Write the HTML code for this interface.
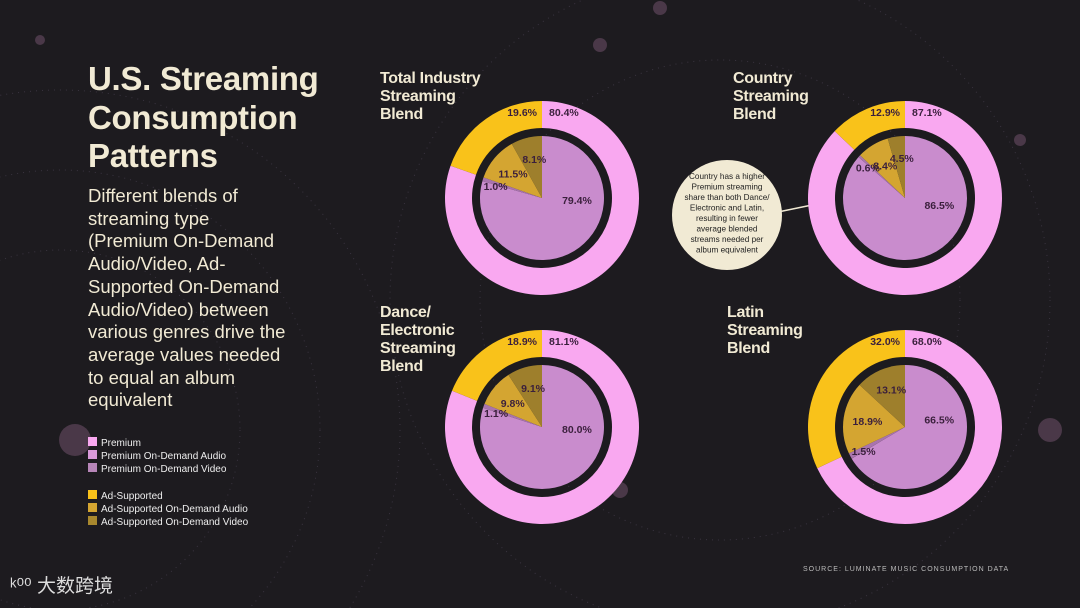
<!DOCTYPE html>
<html><head><meta charset="utf-8"><style>
body{margin:0;width:1080px;height:608px;overflow:hidden;background:#1d1b1f;font-family:"Liberation Sans",sans-serif;}
#root{position:relative;width:1080px;height:608px;overflow:hidden;}
.t{position:absolute;color:#f1ead4;}
</style></head><body>
<div id="root">
<svg id="bg" width="1080" height="608" style="position:absolute;left:0;top:0">
<g fill="none" stroke="#3a3440" stroke-width="1" stroke-dasharray="1 5">
<circle cx="60" cy="430" r="180"/><circle cx="60" cy="430" r="260"/><circle cx="60" cy="430" r="340"/>
<circle cx="720" cy="300" r="240"/><circle cx="720" cy="300" r="330"/>
</g>
<g fill="#4a3848"><circle cx="75" cy="440" r="16"/><circle cx="600" cy="45" r="7"/><circle cx="660" cy="8" r="7"/><circle cx="1020" cy="140" r="6"/><circle cx="620" cy="490" r="8"/><circle cx="40" cy="40" r="5"/><circle cx="1050" cy="430" r="12"/></g>
</svg>
<div class="t" style="left:88px;top:60px;font-size:33px;font-weight:bold;line-height:38.5px;letter-spacing:-0.3px">U.S. Streaming<br>Consumption<br>Patterns</div>
<div class="t" style="left:88px;top:185px;font-size:18.5px;line-height:22.7px;white-space:nowrap">Different blends of<br>streaming type<br>(Premium On-Demand<br>Audio/Video, Ad-<br>Supported On-Demand<br>Audio/Video) between<br>various genres drive the<br>average values needed<br>to equal an album<br>equivalent</div>
<div style="position:absolute;left:88px;top:437px;font-size:10px;color:#eee;line-height:13px">
<div><span style="display:inline-block;width:9px;height:9px;background:#f9a8f0;margin-right:4px"></span>Premium</div>
<div><span style="display:inline-block;width:9px;height:9px;background:#d99ad9;margin-right:4px"></span>Premium On-Demand Audio</div>
<div><span style="display:inline-block;width:9px;height:9px;background:#b786b8;margin-right:4px"></span>Premium On-Demand Video</div>
<div style="height:14px"></div>
<div><span style="display:inline-block;width:9px;height:9px;background:#f9c21a;margin-right:4px"></span>Ad-Supported</div>
<div><span style="display:inline-block;width:9px;height:9px;background:#d4a531;margin-right:4px"></span>Ad-Supported On-Demand Audio</div>
<div><span style="display:inline-block;width:9px;height:9px;background:#a8882e;margin-right:4px"></span>Ad-Supported On-Demand Video</div>
</div>
<svg id="charts" width="1080" height="608" style="position:absolute;left:0;top:0">
<line x1="778" y1="212" x2="812" y2="205" stroke="#f1ead4" stroke-width="1.5"/>
<circle cx="727" cy="215" r="55" fill="#f1ead4"/>
<text x="727" y="179" font-size="8.2" text-anchor="middle" fill="#222">
<tspan x="727" dy="0">Country has a higher</tspan><tspan x="727" dy="10.5">Premium streaming</tspan><tspan x="727" dy="10.5">share than both Dance/</tspan><tspan x="727" dy="10.5">Electronic and Latin,</tspan><tspan x="727" dy="10.5">resulting in fewer</tspan><tspan x="727" dy="10.5">average blended</tspan><tspan x="727" dy="10.5">streams needed per</tspan><tspan x="727" dy="10.5">album equivalent</tspan></text>
</svg>
<div class="t" style="left:803px;top:566px;font-size:7px;letter-spacing:1px;color:#bbb">SOURCE: LUMINATE MUSIC CONSUMPTION DATA</div>
<div class="t" style="left:10px;top:576px;font-size:19px;line-height:22px;color:#ddd;font-family:'Liberation Sans','Noto Sans CJK SC',sans-serif">ᵏ⁰⁰ 大数跨境</div>
</div>
<script>
const chartNames=["Total Industry\nStreaming\nBlend","Country\nStreaming\nBlend","Dance/\nElectronic\nStreaming\nBlend","Latin\nStreaming\nBlend"];
const premiumShare=[80.4,87.1,81.1,68.0];
const adShare=[19.6,12.9,18.9,32.0];
const premiumAudio=[79.4,86.5,80.0,66.5];
const premiumVideo=[1.0,0.6,1.1,1.5];
const adAudio=[11.5,8.4,9.8,18.9];
const adVideo=[8.1,4.5,9.1,13.1];
const svg=document.getElementById('charts');
const NS='http://www.w3.org/2000/svg';
const centers=[[542,198],[905,198],[542,427],[905,427]];
const titleTops=[[380,70],[733,70],[380,304],[727,304]];
function pt(cx,cy,r,a){const t=a/100*2*Math.PI;return [cx+r*Math.sin(t),cy-r*Math.cos(t)];}
function arc(cx,cy,r0,r1,a0,a1){
 const big=(a1-a0)>50?1:0;
 const [x0,y0]=pt(cx,cy,r1,a0),[x1,y1]=pt(cx,cy,r1,a1);
 if(r0===0) return `M${cx},${cy}L${x0},${y0}A${r1},${r1} 0 ${big} 1 ${x1},${y1}Z`;
 const [x2,y2]=pt(cx,cy,r0,a1),[x3,y3]=pt(cx,cy,r0,a0);
 return `M${x0},${y0}A${r1},${r1} 0 ${big} 1 ${x1},${y1}L${x2},${y2}A${r0},${r0} 0 ${big} 0 ${x3},${y3}Z`;}
function txt(x,y,s,fs,anchor,name){const t=document.createElementNS(NS,'text');
 t.setAttribute('x',x);t.setAttribute('y',y);t.setAttribute('font-size',fs);t.setAttribute('font-weight','bold');
 t.setAttribute('text-anchor',anchor);t.setAttribute('fill','#3a1f3c');t.textContent=s;
 
 
 svg.appendChild(t);}
chartNames.forEach((nm,i)=>{
 const [cx,cy]=centers[i];
 const g=document.createElementNS(NS,'g');
 
 
 svg.appendChild(g);
 const ring=[[premiumShare[i],'#f9a8f0','ring-premium'],[adShare[i],'#f9c21a','ring-ad']];
 let a=0;
 ring.forEach(([v,c,n])=>{const p=document.createElementNS(NS,'path');p.setAttribute('d',arc(cx,cy,70,97,a,a+v-0.001));p.setAttribute('fill',c);
  
  
  g.appendChild(p);a+=v;});
 const inner=[[premiumAudio[i],'#c98ccd','pie-premium-audio',35,0.65],[premiumVideo[i],'#a974ad','pie-premium-video',48,0.99],[adAudio[i],'#d4a531','pie-ad-audio',38,1],[adVideo[i],'#9e7f2c','pie-ad-video',40,1.01]];
 a=0;
 inner.forEach(([v,c,n,lr,k])=>{const p=document.createElementNS(NS,'path');p.setAttribute('d',arc(cx,cy,0,62,a,a+v-0.001));p.setAttribute('fill',c);
  
  
  g.appendChild(p);
  const [lx,ly]=pt(cx,cy,lr,(a+v/2)*k);
  txt(lx,ly+4,v.toFixed(1)+'%',10.5,'middle',n+'-label');a+=v;});
 txt(cx-5,cy-82,adShare[i].toFixed(1)+'%',10.5,'end','ring-ad-label');
 txt(cx+7,cy-82,premiumShare[i].toFixed(1)+'%',10.5,'start','ring-premium-label');
 const d=document.createElement('div');d.className='t';
 d.style.cssText=`left:${titleTops[i][0]}px;top:${titleTops[i][1]}px;font-size:16px;font-weight:bold;line-height:18px;white-space:pre;letter-spacing:-0.3px`;
 d.textContent=nm;
 
 
 document.getElementById('root').appendChild(d);
});
</script>
</body></html>
